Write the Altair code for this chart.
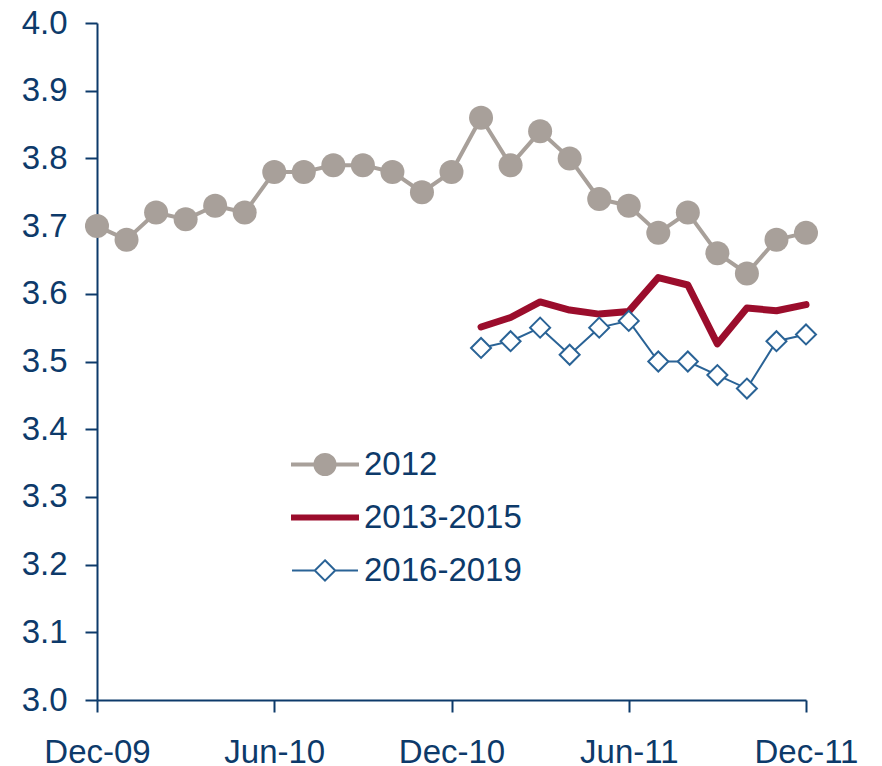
import altair as alt
import pandas as pd

months = ["Dec-09", "Jan-10", "Feb-10", "Mar-10", "Apr-10", "May-10", "Jun-10",
          "Jul-10", "Aug-10", "Sep-10", "Oct-10", "Nov-10", "Dec-10",
          "Jan-11", "Feb-11", "Mar-11", "Apr-11", "May-11", "Jun-11",
          "Jul-11", "Aug-11", "Sep-11", "Oct-11", "Nov-11", "Dec-11"]
tick_labels = ["Dec-09", "Jun-10", "Dec-10", "Jun-11", "Dec-11"]
y_ticks = [3.0, 3.1, 3.2, 3.3, 3.4, 3.5, 3.6, 3.7, 3.8, 3.9, 4.0]

series_names = ["2012", "2013-2015", "2016-2019"]
s2012 = [3.70, 3.68, 3.72, 3.71, 3.73, 3.72, 3.78, 3.78, 3.79, 3.79, 3.78, 3.75,
         3.78, 3.86, 3.79, 3.84, 3.80, 3.74, 3.73, 3.69, 3.72, 3.66, 3.63, 3.68, 3.69]
s2013 = [None] * 13 + [3.551, 3.565, 3.588, 3.576, 3.570, 3.574,
                       3.624, 3.613, 3.526, 3.579, 3.575, 3.584]
s2016 = [None] * 13 + [3.52, 3.53, 3.55, 3.51, 3.55, 3.56,
                       3.50, 3.50, 3.48, 3.46, 3.53, 3.54]

GRAY = "#A8A09A"
RED = "#9B0D2C"
BLUE = "#2A6396"
NAVY = "#0D3A6A"
FONT = "Liberation Sans"

rows = []
for name, vals in zip(series_names, [s2012, s2013, s2016]):
    for m, v in zip(months, vals):
        if v is not None:
            rows.append({"month": m, "series": name, "value": v})
df = pd.DataFrame(rows)

x = alt.X("month:N", sort=months,
          scale=alt.Scale(type="point", domain=months, padding=0),
          axis=alt.Axis(values=tick_labels, labelAngle=0, title=None,
                        labelPadding=24, labelFlush=False))
y = alt.Y("value:Q",
          scale=alt.Scale(domain=[3.0, 4.0], nice=False, zero=False),
          axis=alt.Axis(values=y_ticks, format=".1f", title=None, grid=False,
                        labelPadding=18))

base = alt.Chart(df)

gray_line = base.transform_filter(alt.datum.series == "2012").mark_line(
    color=GRAY, strokeWidth=4, strokeJoin="round").encode(x=x, y=y)
gray_pts = base.transform_filter(alt.datum.series == "2012").mark_point(
    filled=True, shape="circle", size=576, color=GRAY, opacity=1).encode(x=x, y=y)
red_line = base.transform_filter(alt.datum.series == "2013-2015").mark_line(
    color=RED, strokeWidth=7, strokeJoin="round", strokeCap="round").encode(x=x, y=y)
blue_line = base.transform_filter(alt.datum.series == "2016-2019").mark_line(
    color=BLUE, strokeWidth=2).encode(x=x, y=y)
blue_pts = base.transform_filter(alt.datum.series == "2016-2019").mark_point(
    filled=True, shape="diamond", size=400, fill="white", stroke=BLUE,
    strokeWidth=2, opacity=1).encode(x=x, y=y)

# legend symbols (line + marker) as custom paths
P_GRAY = ("M-0.97,-0.03 L0.97,-0.03 L0.97,0.03 L-0.97,0.03 Z "
          "M0.31,0 A0.31,0.31 0 1,1 -0.31,0 A0.31,0.31 0 1,1 0.31,0 Z")
P_RED = "M-0.97,-0.06 L0.97,-0.06 L0.97,0.06 L-0.97,0.06 Z"
P_BLUE = ("M-0.97,0 L-0.3,0 M0.3,0 L0.97,0 "
          "M0,-0.3 L0.3,0 L0,0.3 L-0.3,0 Z")

leg = alt.Legend(title=None, orient="none", legendX=193, legendY=415,
                 symbolSize=4624, symbolStrokeWidth=2, symbolOpacity=1,
                 labelFontSize=33, labelColor=NAVY, labelFont=FONT,
                 labelOffset=4, clipHeight=53, rowPadding=0, padding=0)

legend_df = pd.DataFrame({"series": series_names})
legend_layer = alt.Chart(legend_df).transform_filter("false").mark_point(
    filled=True, opacity=0).encode(
    shape=alt.Shape("series:N", scale=alt.Scale(domain=series_names,
                    range=[P_GRAY, P_RED, P_BLUE]), legend=leg),
    fill=alt.Fill("series:N", scale=alt.Scale(domain=series_names,
                  range=[GRAY, RED, "white"]), legend=leg),
    stroke=alt.Stroke("series:N", scale=alt.Scale(domain=series_names,
                      range=[GRAY, RED, BLUE]), legend=leg),
)

chart = alt.layer(gray_line, gray_pts, red_line, blue_line, blue_pts, legend_layer).properties(
    width=709, height=677,
    padding={"left": 89, "top": 15, "right": 60, "bottom": 66},
    autosize=alt.AutoSizeParams(type="none"),
).configure_view(stroke=None).configure_axis(
    domainColor=NAVY, domainWidth=2, tickColor=NAVY, tickWidth=2, tickSize=12,
    labelFontSize=33, labelColor=NAVY, labelFont=FONT,
)

chart.save("out.html", embed_options={"renderer": "svg", "actions": False})
